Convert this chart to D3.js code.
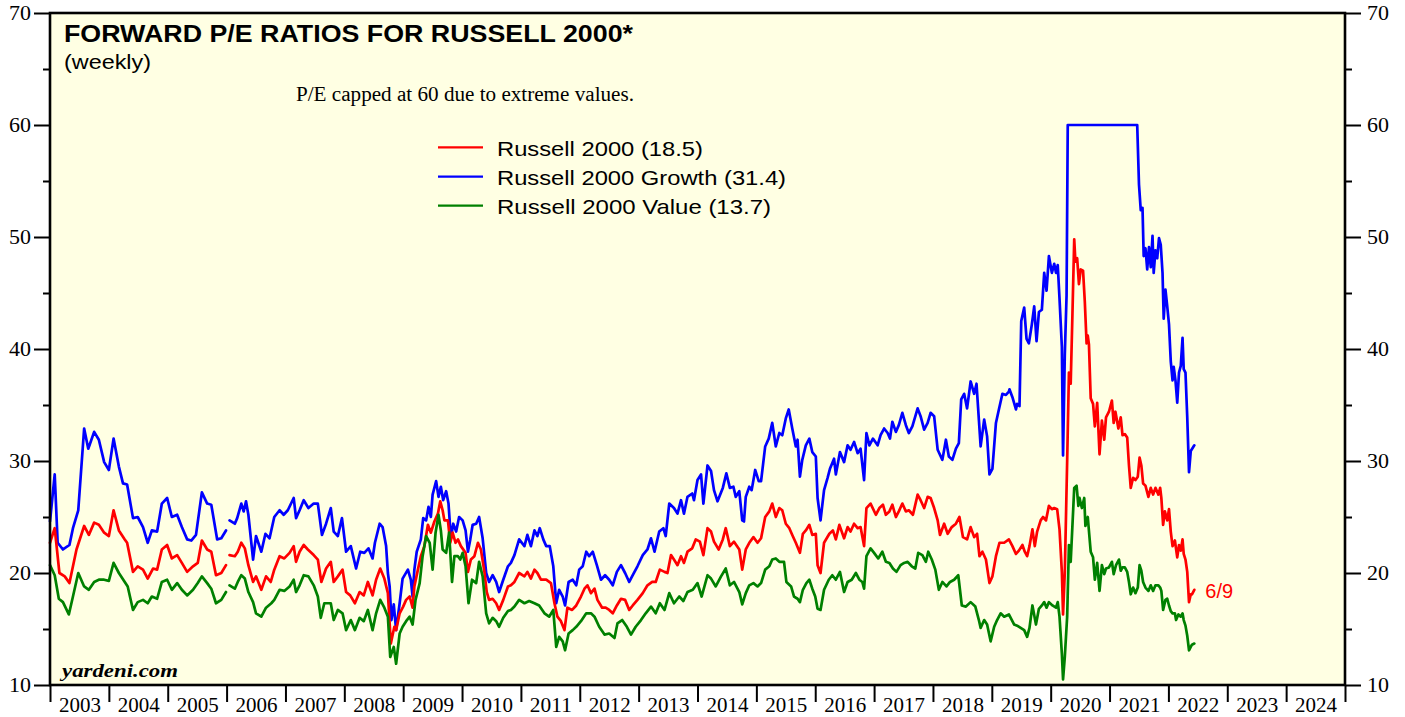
<!DOCTYPE html>
<meta charset="utf-8">
<title>Forward P/E Ratios for Russell 2000</title>
<style>
body { margin:0; background:#fff; }
svg { display:block; }
.axis path { display:none; }
.axis line { stroke:#000; stroke-width:2px; }
.axis text { font-family:"Liberation Serif","Times New Roman",serif; font-size:20px; fill:#000; }
.series { fill:none; stroke-width:2.7px; stroke-linejoin:round; stroke-linecap:round; }
.sans { font-family:"Liberation Sans",Arial,sans-serif; }
</style>
<body>
<div id="chart"></div>
<script src="https://cdn.jsdelivr.net/npm/d3@7"></script>
<script>
// weekly forward P/E as [year, P/E]; null = gap in the data
var russell2000 = [
  [2003.00,22.7],[2003.08,24.0],[2003.16,20.0],[2003.25,19.7],[2003.33,19.1],[2003.45,22.1],[2003.58,24.2],[2003.66,23.4],
  [2003.75,24.5],[2003.83,24.3],[2003.92,23.6],[2004.00,23.3],[2004.08,25.6],[2004.17,23.8],[2004.27,23.0],[2004.31,22.7],
  [2004.41,20.1],[2004.49,20.6],[2004.58,20.3],[2004.66,19.5],[2004.75,20.4],[2004.82,20.3],[2004.90,22.1],[2004.99,22.5],
  [2005.07,21.3],[2005.16,21.6],[2005.24,20.9],[2005.33,20.1],[2005.43,20.6],[2005.51,20.9],[2005.58,22.9],[2005.67,22.1],
  [2005.74,21.9],[2005.82,19.8],[2005.91,20.0],[2005.99,20.7],[2006.02,null],
  [2006.05,21.6],[2006.14,21.5],[2006.19,21.9],[2006.25,22.7],[2006.31,22.2],[2006.37,20.7],[2006.45,19.2],[2006.50,19.7],
  [2006.59,18.5],[2006.67,19.7],[2006.75,19.2],[2006.81,20.3],[2006.90,21.5],[2006.98,21.3],[2007.07,21.8],[2007.14,22.4],
  [2007.18,21.0],[2007.24,21.9],[2007.31,22.5],[2007.38,22.1],[2007.48,21.6],[2007.55,21.2],[2007.61,19.2],[2007.69,20.4],
  [2007.77,21.0],[2007.82,19.2],[2007.89,19.7],[2007.97,20.3],[2008.03,18.3],[2008.10,18.0],[2008.18,17.3],[2008.26,18.3],
  [2008.33,18.0],[2008.40,19.2],[2008.48,18.0],[2008.54,19.4],[2008.61,20.4],[2008.68,19.5],[2008.74,18.2],[2008.79,13.7],
  [2008.85,15.2],[2008.88,14.9],[2008.94,16.4],[2009.00,17.0],[2009.05,17.6],[2009.11,17.9],[2009.16,16.9],[2009.19,18.8],
  [2009.25,20.3],[2009.30,21.5],[2009.36,22.4],[2009.42,24.3],[2009.47,23.6],[2009.53,24.6],[2009.59,25.3],[2009.63,26.4],
  [2009.67,25.6],[2009.70,24.7],[2009.76,24.7],[2009.80,22.7],[2009.84,23.6],[2009.89,22.7],[2009.93,23.0],[2009.98,22.4],
  [2010.06,21.8],[2010.10,20.1],[2010.15,21.2],[2010.21,21.5],[2010.27,22.7],[2010.32,22.1],[2010.38,20.1],[2010.42,18.3],
  [2010.46,17.6],[2010.52,17.7],[2010.58,17.3],[2010.63,16.7],[2010.70,17.6],[2010.78,18.8],[2010.83,18.9],[2010.89,19.2],
  [2010.97,20.0],[2011.06,19.7],[2011.11,20.1],[2011.17,19.5],[2011.23,20.3],[2011.28,20.0],[2011.34,19.4],[2011.43,19.4],
  [2011.51,19.1],[2011.57,17.3],[2011.62,16.1],[2011.68,15.7],[2011.74,14.9],[2011.79,16.9],[2011.87,16.7],[2011.94,17.1],
  [2012.02,17.9],[2012.08,18.6],[2012.13,18.9],[2012.19,18.2],[2012.25,18.6],[2012.30,17.6],[2012.38,16.9],[2012.44,16.9],
  [2012.50,16.7],[2012.56,16.4],[2012.63,17.1],[2012.70,17.7],[2012.77,17.6],[2012.84,16.7],[2012.90,17.1],[2012.98,17.6],
  [2013.07,18.2],[2013.15,18.9],[2013.23,19.2],[2013.29,19.2],[2013.36,20.3],[2013.44,20.1],[2013.49,20.0],[2013.55,21.6],
  [2013.60,21.2],[2013.66,20.7],[2013.72,21.5],[2013.77,20.9],[2013.83,21.9],[2013.91,22.2],[2013.97,23.0],[2014.04,22.8],
  [2014.10,21.6],[2014.17,24.0],[2014.23,23.7],[2014.28,22.8],[2014.36,22.1],[2014.43,23.0],[2014.48,24.0],[2014.55,22.4],
  [2014.62,22.8],[2014.71,22.1],[2014.76,20.3],[2014.82,22.1],[2014.88,22.7],[2014.95,23.2],[2015.02,22.7],[2015.08,23.1],
  [2015.15,25.0],[2015.22,25.5],[2015.27,26.2],[2015.33,25.0],[2015.39,25.8],[2015.44,25.6],[2015.50,24.4],[2015.56,24.0],
  [2015.61,23.4],[2015.67,22.7],[2015.74,21.8],[2015.79,23.5],[2015.84,23.8],[2015.90,24.3],[2015.95,23.4],[2016.01,23.5],
  [2016.04,20.7],[2016.09,20.0],[2016.15,22.7],[2016.24,23.5],[2016.30,23.8],[2016.35,23.0],[2016.41,24.3],[2016.49,23.1],
  [2016.55,24.1],[2016.60,23.7],[2016.66,24.4],[2016.72,24.0],[2016.77,24.1],[2016.83,22.4],[2016.87,25.8],[2016.94,26.2],
  [2017.03,25.2],[2017.09,25.8],[2017.15,26.1],[2017.20,25.2],[2017.26,25.5],[2017.31,26.1],[2017.37,25.0],[2017.42,25.5],
  [2017.48,26.2],[2017.54,25.5],[2017.59,25.6],[2017.66,25.2],[2017.74,27.0],[2017.79,26.5],[2017.85,25.8],[2017.91,26.8],
  [2017.96,26.7],[2018.02,25.8],[2018.08,24.7],[2018.12,23.4],[2018.19,24.4],[2018.25,23.5],[2018.32,24.1],[2018.39,24.4],
  [2018.45,25.0],[2018.51,23.2],[2018.58,23.0],[2018.64,24.1],[2018.70,23.2],[2018.75,23.5],[2018.79,21.5],[2018.84,21.9],
  [2018.90,21.2],[2018.96,19.1],[2019.01,19.7],[2019.07,21.5],[2019.13,22.7],[2019.21,22.7],[2019.29,23.0],[2019.35,22.4],
  [2019.41,21.7],[2019.46,22.0],[2019.52,22.5],[2019.56,21.9],[2019.60,21.5],[2019.64,22.4],[2019.69,23.9],[2019.73,22.4],
  [2019.77,23.7],[2019.83,24.7],[2019.87,25.0],[2019.92,24.7],[2019.97,26.0],[2020.02,25.7],[2020.06,25.8],[2020.11,25.7],
  [2020.15,23.9],[2020.19,20.1],[2020.21,16.3],[2020.24,20.1],[2020.28,30.0],[2020.31,37.9],[2020.34,36.9],[2020.37,43.2],
  [2020.40,49.8],[2020.42,47.8],[2020.45,48.1],[2020.48,45.8],[2020.51,47.1],[2020.55,47.0],[2020.58,44.2],[2020.61,40.5],
  [2020.63,41.2],[2020.65,40.4],[2020.68,35.6],[2020.72,35.1],[2020.75,33.1],[2020.79,35.2],[2020.83,30.6],[2020.87,33.6],
  [2020.91,31.9],[2020.94,33.9],[2020.99,34.4],[2021.04,35.4],[2021.07,33.4],[2021.10,34.4],[2021.15,32.9],[2021.19,33.9],
  [2021.22,32.3],[2021.26,32.4],[2021.30,32.1],[2021.33,29.6],[2021.36,27.6],[2021.40,28.5],[2021.44,28.3],[2021.48,28.6],
  [2021.51,30.3],[2021.54,29.6],[2021.57,28.0],[2021.61,27.8],[2021.66,26.8],[2021.70,27.6],[2021.74,27.0],[2021.78,27.6],
  [2021.83,27.0],[2021.86,27.6],[2021.88,26.7],[2021.91,24.3],[2021.94,25.5],[2021.98,24.7],[2022.01,25.7],[2022.04,23.7],
  [2022.07,22.4],[2022.11,22.9],[2022.15,21.4],[2022.18,22.5],[2022.21,22.0],[2022.24,23.0],[2022.26,21.7],[2022.29,21.2],
  [2022.32,20.1],[2022.35,17.4],[2022.38,18.1],[2022.40,18.1],[2022.44,18.5]
];

var russell2000Growth = [
  [2003.00,24.6],[2003.08,28.8],[2003.13,22.7],[2003.22,22.1],[2003.33,22.5],[2003.39,24.0],[2003.48,25.6],[2003.58,32.9],
  [2003.65,31.1],[2003.75,32.6],[2003.83,31.9],[2003.92,29.9],[2004.00,29.2],[2004.08,32.0],[2004.17,29.5],[2004.24,28.0],
  [2004.31,27.9],[2004.41,24.9],[2004.49,25.0],[2004.58,24.1],[2004.66,22.7],[2004.73,23.8],[2004.82,23.7],[2004.90,26.2],
  [2004.99,26.7],[2005.07,25.0],[2005.16,25.2],[2005.24,24.1],[2005.33,23.0],[2005.40,22.9],[2005.48,23.4],[2005.58,27.2],
  [2005.67,26.2],[2005.74,26.1],[2005.84,23.0],[2005.91,23.1],[2005.99,23.8],[2006.02,null],
  [2006.05,24.7],[2006.14,24.4],[2006.18,24.9],[2006.25,26.2],[2006.29,25.5],[2006.33,26.4],[2006.37,25.2],[2006.45,21.2],
  [2006.50,23.3],[2006.59,21.9],[2006.66,23.5],[2006.73,23.1],[2006.81,25.0],[2006.90,25.6],[2006.97,25.2],[2007.04,25.6],
  [2007.14,26.7],[2007.18,24.9],[2007.24,25.6],[2007.31,26.5],[2007.39,25.8],[2007.48,26.2],[2007.55,26.2],[2007.62,23.4],
  [2007.69,24.4],[2007.77,25.8],[2007.82,23.7],[2007.89,23.3],[2007.96,24.9],[2008.03,21.9],[2008.11,22.4],[2008.20,20.4],
  [2008.27,21.9],[2008.34,21.8],[2008.41,22.2],[2008.48,21.3],[2008.52,22.7],[2008.60,24.4],[2008.65,24.1],[2008.71,22.4],
  [2008.74,20.0],[2008.77,18.8],[2008.80,15.8],[2008.84,17.2],[2008.88,14.9],[2008.94,17.3],[2008.99,19.5],[2009.08,20.3],
  [2009.13,19.4],[2009.16,17.9],[2009.19,20.3],[2009.23,21.9],[2009.30,23.0],[2009.34,24.9],[2009.39,24.7],[2009.43,25.9],
  [2009.47,25.0],[2009.50,27.0],[2009.56,28.2],[2009.60,26.8],[2009.64,27.7],[2009.68,26.5],[2009.73,27.3],[2009.77,26.2],
  [2009.81,23.1],[2009.85,24.4],[2009.90,23.7],[2009.95,25.0],[2010.01,24.7],[2010.06,23.8],[2010.10,21.9],[2010.14,23.0],
  [2010.18,24.3],[2010.24,24.4],[2010.29,25.0],[2010.35,23.1],[2010.41,20.0],[2010.46,19.2],[2010.52,19.8],[2010.58,19.2],
  [2010.63,18.3],[2010.70,19.4],[2010.78,20.6],[2010.83,20.9],[2010.89,21.6],[2010.97,23.0],[2011.06,22.4],[2011.11,23.4],
  [2011.17,22.4],[2011.23,23.8],[2011.28,23.3],[2011.32,24.0],[2011.38,23.0],[2011.43,22.4],[2011.49,22.4],[2011.55,20.6],
  [2011.60,17.3],[2011.65,18.5],[2011.71,17.9],[2011.75,17.1],[2011.81,19.2],[2011.88,19.4],[2011.94,18.9],[2011.99,20.3],
  [2012.05,20.6],[2012.11,21.9],[2012.16,21.5],[2012.22,21.9],[2012.29,20.7],[2012.36,19.4],[2012.43,19.8],[2012.50,19.4],
  [2012.56,18.9],[2012.63,20.1],[2012.70,20.7],[2012.77,20.0],[2012.84,19.2],[2012.90,19.8],[2012.98,20.6],[2013.07,21.6],
  [2013.15,22.1],[2013.21,23.1],[2013.27,21.9],[2013.35,23.7],[2013.42,24.0],[2013.46,23.3],[2013.52,26.2],[2013.60,25.8],
  [2013.66,25.3],[2013.72,26.5],[2013.77,25.3],[2013.83,26.8],[2013.91,27.1],[2013.94,26.5],[2014.00,28.3],[2014.06,28.8],
  [2014.10,26.2],[2014.17,29.6],[2014.23,29.1],[2014.28,27.4],[2014.34,26.4],[2014.43,27.6],[2014.49,28.9],[2014.55,27.6],
  [2014.61,27.7],[2014.65,26.8],[2014.71,27.3],[2014.76,24.7],[2014.79,24.6],[2014.82,26.8],[2014.88,27.7],[2014.92,27.4],
  [2014.98,29.2],[2015.04,28.2],[2015.08,28.2],[2015.15,31.3],[2015.21,32.0],[2015.27,33.4],[2015.33,31.3],[2015.39,32.5],
  [2015.44,32.3],[2015.50,33.8],[2015.55,34.6],[2015.61,32.9],[2015.67,31.3],[2015.70,31.9],[2015.74,28.6],[2015.78,30.1],
  [2015.84,31.4],[2015.90,32.0],[2015.95,30.8],[2016.01,30.4],[2016.04,26.7],[2016.09,24.7],[2016.15,27.4],[2016.21,28.5],
  [2016.25,29.3],[2016.32,30.2],[2016.35,28.8],[2016.42,30.8],[2016.49,29.9],[2016.55,31.4],[2016.60,31.0],[2016.66,31.7],
  [2016.72,30.7],[2016.77,31.1],[2016.83,28.3],[2016.87,32.5],[2016.92,31.4],[2016.98,32.0],[2017.06,31.4],[2017.11,32.3],
  [2017.17,32.9],[2017.23,32.5],[2017.27,32.0],[2017.31,33.5],[2017.37,32.6],[2017.42,33.2],[2017.48,34.3],[2017.54,33.2],
  [2017.59,32.5],[2017.65,33.1],[2017.74,34.7],[2017.79,34.0],[2017.85,32.8],[2017.91,33.4],[2017.96,34.3],[2018.02,34.0],
  [2018.08,31.0],[2018.16,30.1],[2018.22,31.9],[2018.27,30.4],[2018.33,30.1],[2018.39,31.1],[2018.44,31.6],[2018.48,35.5],
  [2018.53,36.0],[2018.58,34.7],[2018.64,37.1],[2018.70,36.0],[2018.74,36.9],[2018.78,33.7],[2018.81,31.3],[2018.87,33.7],
  [2018.92,32.2],[2018.96,28.8],[2019.01,29.3],[2019.07,33.4],[2019.12,34.6],[2019.18,36.0],[2019.24,35.9],[2019.29,36.2],
  [2019.30,36.4],[2019.35,35.7],[2019.41,34.6],[2019.43,35.1],[2019.47,34.9],[2019.50,42.5],[2019.55,43.7],[2019.59,40.9],
  [2019.63,40.5],[2019.68,42.2],[2019.72,43.8],[2019.76,40.7],[2019.80,43.3],[2019.85,43.5],[2019.89,46.8],[2019.93,45.2],
  [2019.97,48.3],[2020.02,46.8],[2020.06,47.6],[2020.09,46.8],[2020.12,47.5],[2020.15,44.5],[2020.19,40.2],[2020.21,30.5],
  [2020.24,39.5],[2020.27,44.8],[2020.29,60.0],[2021.47,60.0],[2021.50,54.7],[2021.53,52.4],[2021.56,52.6],[2021.58,48.3],
  [2021.61,49.0],[2021.64,47.1],[2021.67,49.1],[2021.70,47.3],[2021.73,50.1],[2021.75,46.8],[2021.78,48.8],[2021.81,48.1],
  [2021.84,49.9],[2021.87,49.3],[2021.90,46.8],[2021.92,42.7],[2021.95,45.3],[2021.98,43.8],[2022.01,42.2],[2022.04,38.9],
  [2022.07,37.2],[2022.09,38.4],[2022.12,37.2],[2022.15,35.2],[2022.18,37.9],[2022.21,38.5],[2022.24,41.0],[2022.26,38.2],
  [2022.29,37.9],[2022.32,33.9],[2022.35,29.0],[2022.38,30.9],[2022.44,31.4]
];

var russell2000Value = [
  [2003.00,20.7],[2003.08,19.8],[2003.15,17.7],[2003.22,17.4],[2003.32,16.3],[2003.39,17.9],[2003.48,20.0],[2003.58,18.8],
  [2003.66,18.5],[2003.75,19.2],[2003.83,19.4],[2003.92,19.4],[2004.00,19.3],[2004.08,20.9],[2004.17,20.0],[2004.27,19.2],
  [2004.32,18.8],[2004.41,16.7],[2004.49,17.4],[2004.58,17.6],[2004.66,17.3],[2004.73,17.9],[2004.82,17.7],[2004.90,19.2],
  [2004.99,19.4],[2005.07,18.5],[2005.16,19.1],[2005.24,18.5],[2005.33,18.0],[2005.43,18.5],[2005.51,19.1],[2005.58,19.7],
  [2005.67,19.1],[2005.74,18.6],[2005.82,17.3],[2005.91,17.6],[2005.99,18.3],[2006.02,null],
  [2006.05,18.9],[2006.14,18.6],[2006.19,19.2],[2006.25,19.8],[2006.31,19.5],[2006.37,18.3],[2006.45,17.4],[2006.50,16.4],
  [2006.59,16.1],[2006.67,16.9],[2006.76,17.3],[2006.81,17.6],[2006.90,18.5],[2006.98,18.4],[2007.07,18.8],[2007.14,19.4],
  [2007.18,18.3],[2007.24,18.9],[2007.31,19.8],[2007.39,19.7],[2007.48,18.9],[2007.55,17.9],[2007.60,16.0],[2007.66,17.3],
  [2007.77,17.3],[2007.82,15.8],[2007.89,16.7],[2007.97,16.4],[2008.03,14.9],[2008.11,15.8],[2008.18,14.9],[2008.26,16.0],
  [2008.33,15.7],[2008.40,16.7],[2008.48,14.9],[2008.54,16.4],[2008.61,17.6],[2008.68,16.9],[2008.74,16.1],[2008.78,12.5],
  [2008.84,13.4],[2008.88,11.9],[2008.94,14.6],[2008.99,15.2],[2009.05,15.7],[2009.11,16.1],[2009.16,15.4],[2009.21,17.6],
  [2009.28,19.1],[2009.33,21.5],[2009.39,23.3],[2009.45,22.7],[2009.50,20.3],[2009.55,23.6],[2009.60,25.2],[2009.64,23.8],
  [2009.67,22.1],[2009.73,21.8],[2009.78,23.6],[2009.83,19.2],[2009.87,21.5],[2009.93,21.5],[2009.97,21.2],[2010.01,21.8],
  [2010.06,20.6],[2010.11,17.3],[2010.17,19.4],[2010.24,19.1],[2010.29,21.0],[2010.35,19.7],[2010.41,16.4],[2010.46,15.5],
  [2010.52,16.0],[2010.58,15.7],[2010.63,15.2],[2010.70,16.0],[2010.78,16.6],[2010.83,16.7],[2010.89,17.0],[2010.97,17.6],
  [2011.06,17.3],[2011.14,17.5],[2011.23,17.3],[2011.31,17.1],[2011.40,16.4],[2011.48,16.1],[2011.55,16.7],[2011.60,13.4],
  [2011.65,14.3],[2011.71,13.9],[2011.75,13.1],[2011.81,14.6],[2011.88,14.9],[2011.94,15.2],[2012.02,15.7],[2012.11,16.4],
  [2012.19,16.4],[2012.25,16.1],[2012.33,15.2],[2012.42,14.5],[2012.50,14.6],[2012.59,14.2],[2012.64,15.5],[2012.72,15.8],
  [2012.80,15.2],[2012.87,14.5],[2012.95,15.2],[2013.04,15.8],[2013.12,16.4],[2013.21,17.0],[2013.29,16.4],[2013.36,17.3],
  [2013.44,16.7],[2013.52,18.2],[2013.60,17.3],[2013.69,17.9],[2013.76,17.5],[2013.83,18.3],[2013.92,18.5],[2014.00,19.1],
  [2014.07,17.9],[2014.17,19.8],[2014.23,19.5],[2014.31,18.8],[2014.40,19.7],[2014.48,20.4],[2014.55,18.9],[2014.62,19.2],
  [2014.71,18.3],[2014.76,17.2],[2014.82,18.2],[2014.88,18.9],[2014.95,19.1],[2015.02,18.8],[2015.08,19.1],[2015.15,20.3],
  [2015.22,20.6],[2015.27,21.2],[2015.33,21.3],[2015.39,21.0],[2015.47,21.0],[2015.51,19.2],[2015.59,18.8],[2015.64,17.9],
  [2015.70,17.7],[2015.74,17.4],[2015.79,18.5],[2015.85,19.1],[2015.90,19.4],[2015.95,18.6],[2016.00,17.9],[2016.04,16.8],
  [2016.09,16.7],[2016.15,18.5],[2016.23,19.4],[2016.29,19.8],[2016.35,19.4],[2016.42,20.1],[2016.49,18.3],[2016.55,19.2],
  [2016.62,19.4],[2016.69,20.0],[2016.75,19.4],[2016.80,19.2],[2016.83,18.6],[2016.87,21.5],[2016.94,22.2],[2017.00,21.8],
  [2017.07,21.3],[2017.14,21.9],[2017.20,21.0],[2017.26,20.9],[2017.32,20.4],[2017.38,20.1],[2017.45,20.7],[2017.51,20.9],
  [2017.57,21.0],[2017.64,20.6],[2017.70,20.4],[2017.75,21.8],[2017.82,21.6],[2017.88,21.0],[2017.92,21.9],[2017.98,21.2],
  [2018.04,20.3],[2018.10,18.5],[2018.16,19.2],[2018.23,18.8],[2018.29,19.2],[2018.36,19.4],[2018.43,19.8],[2018.49,17.1],
  [2018.56,17.0],[2018.64,17.4],[2018.72,17.0],[2018.78,15.8],[2018.81,15.1],[2018.87,15.8],[2018.92,15.4],[2018.98,13.9],
  [2019.04,15.2],[2019.09,15.8],[2019.15,16.4],[2019.21,16.1],[2019.29,16.3],[2019.38,15.4],[2019.43,15.3],[2019.49,15.1],
  [2019.55,14.9],[2019.60,14.3],[2019.64,15.1],[2019.69,17.1],[2019.75,15.4],[2019.80,16.8],[2019.85,17.1],[2019.89,17.4],
  [2019.93,16.9],[2019.97,17.4],[2020.03,17.1],[2020.09,16.9],[2020.12,17.4],[2020.15,16.1],[2020.19,12.8],[2020.21,10.5],
  [2020.24,12.5],[2020.28,16.1],[2020.31,22.5],[2020.34,21.0],[2020.37,24.3],[2020.40,27.6],[2020.44,27.8],[2020.47,26.0],
  [2020.49,26.7],[2020.53,25.8],[2020.57,26.7],[2020.59,24.2],[2020.63,25.0],[2020.68,21.9],[2020.72,21.4],[2020.75,19.4],
  [2020.79,20.9],[2020.83,18.4],[2020.87,20.7],[2020.91,19.9],[2020.94,20.4],[2020.99,20.5],[2021.04,21.0],[2021.07,19.9],
  [2021.11,20.7],[2021.16,21.2],[2021.19,20.2],[2021.22,20.5],[2021.26,20.5],[2021.30,20.1],[2021.33,19.2],[2021.36,18.1],
  [2021.40,18.7],[2021.44,18.2],[2021.48,18.7],[2021.51,20.7],[2021.54,20.2],[2021.57,19.2],[2021.61,18.7],[2021.66,18.4],
  [2021.70,18.9],[2021.74,18.4],[2021.78,18.9],[2021.83,18.9],[2021.86,18.7],[2021.88,18.4],[2021.91,16.7],[2021.95,17.6],
  [2021.98,17.7],[2022.01,17.1],[2022.04,16.6],[2022.07,16.4],[2022.11,16.4],[2022.13,15.8],[2022.17,16.3],[2022.21,16.1],
  [2022.24,16.4],[2022.26,15.8],[2022.29,15.3],[2022.32,14.4],[2022.35,13.1],[2022.38,13.4],[2022.40,13.6],[2022.44,13.7]
];

var years = d3.range(2003, 2025);
var yMajor = [10, 20, 30, 40, 50, 60, 70];
var yMinor = [15, 25, 35, 45, 55, 65];
var seriesNames = ["Russell 2000 (18.5)", "Russell 2000 Growth (31.4)", "Russell 2000 Value (13.7)"];
var seriesColors = ["#ff0000", "#0000ff", "#008000"];
var lastDateLabel = "6/9";

var width = 1405, height = 717;
var plot = {left: 50, right: 1345, top: 13, bottom: 685};

var x = d3.scaleLinear().domain([2003, 2025]).range([plot.left, plot.right]);
var y = d3.scaleLinear().domain([10, 70]).range([plot.bottom, plot.top]);

var svg = d3.select("#chart").append("svg")
    .attr("width", width)
    .attr("height", height);

svg.append("rect")
    .attr("x", plot.left).attr("y", plot.top)
    .attr("width", plot.right - plot.left).attr("height", plot.bottom - plot.top)
    .attr("fill", "#ffffe3");

var line = d3.line()
    .defined(function(d) { return d[1] != null; })
    .x(function(d) { return x(d[0]); })
    .y(function(d) { return y(d[1]); });

// draw order: growth, total, value
[[russell2000Growth, 1], [russell2000, 0], [russell2000Value, 2]].forEach(function(s) {
  svg.append("path")
     .datum(s[0])
     .attr("class", "series")
     .attr("stroke", seriesColors[s[1]])
     .attr("d", line);
});

// frame
svg.append("rect")
    .attr("x", plot.left).attr("y", plot.top)
    .attr("width", plot.right - plot.left).attr("height", plot.bottom - plot.top)
    .attr("fill", "none")
    .attr("stroke", "#000")
    .attr("stroke-width", 2.6);

// y axes, left and right
svg.append("g").attr("class", "axis")
   .attr("transform", "translate(" + plot.left + ",0)")
   .call(d3.axisLeft(y).tickValues(yMajor).tickSize(16).tickPadding(3).tickFormat(d3.format("d")));
svg.append("g").attr("class", "axis")
   .attr("transform", "translate(" + plot.left + ",0)")
   .call(d3.axisLeft(y).tickValues(yMinor).tickSize(7).tickFormat(""));
svg.append("g").attr("class", "axis")
   .attr("transform", "translate(" + plot.right + ",0)")
   .call(d3.axisRight(y).tickValues(yMajor).tickSize(16).tickPadding(6).tickFormat(d3.format("d")));
svg.append("g").attr("class", "axis")
   .attr("transform", "translate(" + plot.right + ",0)")
   .call(d3.axisRight(y).tickValues(yMinor).tickSize(7).tickFormat(""));

svg.selectAll(".axis text").attr("textLength", 22).attr("lengthAdjust", "spacingAndGlyphs");

// x axis: ticks at year boundaries, labels in the middle of each year
svg.append("g").attr("class", "axis")
   .attr("transform", "translate(0," + plot.bottom + ")")
   .call(d3.axisBottom(x).tickValues(d3.range(2003, 2026)).tickSize(17).tickFormat(""))
   .selectAll("line").attr("stroke-width", 2.6);
svg.append("g").attr("class", "axis xlab")
   .attr("transform", "translate(0," + plot.bottom + ")")
   .call(d3.axisBottom(x).tickValues(years.map(function(d) { return d + 0.5; }))
        .tickSize(0).tickPadding(13).tickFormat(function(d) { return Math.floor(d); }))
   .selectAll("text").attr("textLength", 42).attr("lengthAdjust", "spacingAndGlyphs");

// titles
svg.append("text").attr("class", "sans")
   .attr("x", 64).attr("y", 41.5)
   .attr("font-size", 24.5).attr("font-weight", "bold")
   .attr("textLength", 569).attr("lengthAdjust", "spacingAndGlyphs")
   .text("FORWARD P/E RATIOS FOR RUSSELL 2000*");
svg.append("text").attr("class", "sans")
   .attr("x", 64).attr("y", 69)
   .attr("font-size", 21)
   .attr("textLength", 87).attr("lengthAdjust", "spacingAndGlyphs")
   .text("(weekly)");
svg.append("text")
   .attr("x", 296).attr("y", 101)
   .attr("font-family", "'Liberation Serif','Times New Roman',serif")
   .attr("font-size", 20)
   .attr("textLength", 338).attr("lengthAdjust", "spacingAndGlyphs")
   .text("P/E capped at 60 due to extreme values.");

// legend
var legendY = [147.3, 176.7, 205.7];
var legendLen = [206, 289, 274];
var legend = svg.append("g");
seriesNames.forEach(function(name, i) {
  legend.append("line")
     .attr("x1", 438).attr("x2", 483)
     .attr("y1", legendY[i]).attr("y2", legendY[i])
     .attr("stroke", seriesColors[i]).attr("stroke-width", 2.2);
  legend.append("text").attr("class", "sans")
     .attr("x", 497).attr("y", legendY[i] + 8.4)
     .attr("font-size", 21)
     .attr("textLength", legendLen[i]).attr("lengthAdjust", "spacingAndGlyphs")
     .text(name);
});

// last date marker
var last = russell2000[russell2000.length - 1];
svg.append("text").attr("class", "sans")
   .attr("x", x(last[0]) + 11).attr("y", 598)
   .attr("font-size", 20).attr("fill", seriesColors[0])
   .text(lastDateLabel);

svg.append("text")
   .attr("x", 62).attr("y", 677)
   .attr("font-family", "'Liberation Serif','Times New Roman',serif")
   .attr("font-size", 19).attr("font-weight", "bold").attr("font-style", "italic")
   .attr("textLength", 116).attr("lengthAdjust", "spacingAndGlyphs")
   .text("yardeni.com");
</script>
</body>
</html>
